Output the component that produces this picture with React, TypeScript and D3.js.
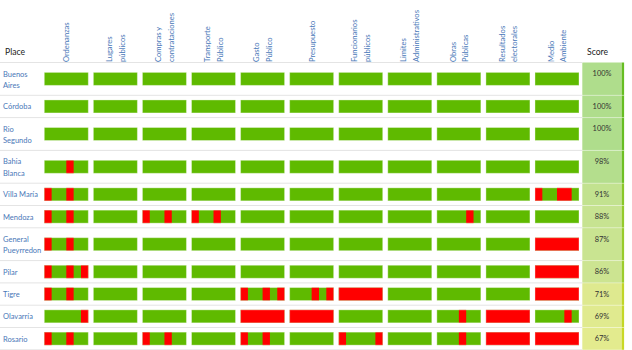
import React from "react";
import * as d3 from "d3";

const categories: string[][] = [
  ["Ordenanzas"],
  ["Lugares", "públicos"],
  ["Compras y", "contrataciones"],
  ["Transporte", "Público"],
  ["Gasto", "Público"],
  ["Presupuesto"],
  ["Funcionarios", "públicos"],
  ["Limites", "Administrativos"],
  ["Obras", "Públicas"],
  ["Resultados", "electorales"],
  ["Medio", "Ambiente"],
];

const places: string[][] = [
  ["Buenos", "Aires"],
  ["Córdoba"],
  ["Rio", "Segundo"],
  ["Bahia", "Blanca"],
  ["Villa María"],
  ["Mendoza"],
  ["General", "Pueyrredon"],
  ["Pilar"],
  ["Tigre"],
  ["Olavarría"],
  ["Rosario"],
];

const scores: number[] = [100, 100, 100, 98, 91, 88, 87, 86, 71, 69, 67];

// each column: 6 sub-items, G = pass, R = fail
const G = "GGGGGG";
const R = "RRRRRR";
const results: string[][] = [
  [G, G, G, G, G, G, G, G, G, G, G],
  [G, G, G, G, G, G, G, G, G, G, G],
  [G, G, G, G, G, G, G, G, G, G, G],
  ["GGGRGG", G, G, G, G, G, G, G, G, G, G],
  ["RGGRGG", G, G, G, G, G, G, G, G, G, "RGGRRG"],
  ["RGGRGG", G, "RGGRGG", "RGGRGG", G, G, G, G, "GGGGRG", G, G],
  ["RGGRGG", G, G, G, G, G, G, G, G, G, R],
  ["RGGRGR", G, G, G, G, G, G, G, G, G, R],
  ["RGGRGG", G, G, G, "RGGRGR", "GGGRGR", R, G, G, G, R],
  ["GGGGGR", G, G, G, R, R, G, G, "GGGRGG", R, "GGGGRG"],
  ["RGGRGG", G, "RGGRGG", G, "RGGRGG", G, "RGGGGR", G, "GGGRGG", R, R],
];

const W = 632;
const H = 350;
const headerBottom = 62.5;
const lineH = 11.5;
const blue = "#4a78b8";
const green = "#5fba00";
const red = "#ff0000";
const font = "Lato, 'Open Sans', sans-serif";

// contiguous runs of failing sub-items
function redRuns(segs: string): [number, number][] {
  const runs: [number, number][] = [];
  let start = -1;
  for (let k = 0; k <= segs.length; k++) {
    const isR = k < segs.length && segs[k] === "R";
    if (isR && start < 0) start = k;
    if (!isR && start >= 0) {
      runs.push([start, k]);
      start = -1;
    }
  }
  return runs;
}

export default function App() {
  const x = d3
    .scaleBand<number>()
    .domain(d3.range(categories.length))
    .range([44.3, 579])
    .paddingInner(0.103)
    .paddingOuter(0);
  const bw = x.bandwidth();

  const heights = places.map((p) => (p.length > 1 ? 32.8 : 22.3));
  const tops = [headerBottom, ...Array.from(d3.cumsum(heights)).map((c) => headerBottom + c)];

  const scoreX0 = 582.3;
  const scoreX1 = 621.7;
  const stripeW = 2.4;
  const stripeColor = d3
    .scaleLinear<string>()
    .domain([67, 86, 100])
    .range(["#c9d826", "#9ccc2c", "#66bd22"])
    .interpolate(d3.interpolateRgb);
  const bgColor = (s: number) => d3.interpolateRgb("#ffffff", stripeColor(s))(0.52);

  const barH = 13;

  return (
    <svg
      width={W}
      height={H}
      style={{ position: "absolute", left: 0, top: 0, background: "#fff" }}
      fontFamily={font}
    >
      {/* header */}
      <text x={5} y={51.7} dominantBaseline="central" fontSize={8.6} fill="#222">
        Place
      </text>
      <text x={587} y={51.7} dominantBaseline="central" fontSize={8.6} fill="#222">
        Score
      </text>
      {categories.map((lines, i) => {
        const cx = (x(i) as number) + bw / 2;
        return lines.map((ln, j) => {
          const off = lines.length === 1 ? 0 : j === 0 ? -6.3 : 6.3;
          return (
            <text
              key={`h${i}-${j}`}
              transform={`translate(${cx + off},62) rotate(-90)`}
              dominantBaseline="central"
              fontSize={7.6}
              fill={blue}
            >
              {ln}
            </text>
          );
        });
      })}

      {/* score column */}
      {scores.map((s, i) => (
        <g key={`s${i}`}>
          <rect x={scoreX0} y={tops[i]} width={scoreX1 - scoreX0} height={tops[i + 1] - tops[i]} fill={bgColor(s)} />
          <rect x={scoreX1} y={tops[i]} width={stripeW} height={tops[i + 1] - tops[i]} fill={stripeColor(s)} />
          <text
            x={(scoreX0 + scoreX1) / 2}
            y={tops[i] + 11.3}
            dominantBaseline="central"
            textAnchor="middle"
            fontSize={7.4}
            fill="#333"
          >
            {s}%
          </text>
        </g>
      ))}

      {/* row separators */}
      {tops.map((t, i) => (
        <g key={`l${i}`}>
          <line x1={0} x2={scoreX0} y1={t} y2={t} stroke="#e4e4e4" strokeWidth={1} />
          {i > 0 && i < tops.length - 1 && (
            <line x1={scoreX0} x2={scoreX1 + stripeW} y1={t} y2={t} stroke="#ffffff" strokeOpacity={0.35} strokeWidth={1} />
          )}
        </g>
      ))}

      {/* place labels */}
      {places.map((lines, i) =>
        lines.map((ln, j) => (
          <text
            key={`p${i}-${j}`}
            x={3}
            y={tops[i] + 11.5 + j * lineH}
            dominantBaseline="central"
            fontSize={7.5}
            fill={blue}
          >
            {ln}
          </text>
        ))
      )}

      {/* bars */}
      {results.map((row, i) => {
        const cy = (tops[i] + tops[i + 1]) / 2;
        const y0 = cy - barH / 2;
        return row.map((segs, c) => {
          const bx = x(c) as number;
          const sx = d3.scaleLinear().domain([0, segs.length]).range([bx, bx + bw]);
          return (
            <g key={`b${i}-${c}`}>
              <rect x={bx} y={y0} width={bw} height={barH} fill={green} />
              {redRuns(segs).map(([a, b], k) => (
                <rect key={k} x={sx(a)} y={y0} width={sx(b) - sx(a)} height={barH} fill={red} />
              ))}
              <rect x={bx} y={y0} width={bw} height={barH} fill="none" stroke="#ffffff" strokeOpacity={0.35} strokeWidth={1} />
            </g>
          );
        });
      })}
    </svg>
  );
}
